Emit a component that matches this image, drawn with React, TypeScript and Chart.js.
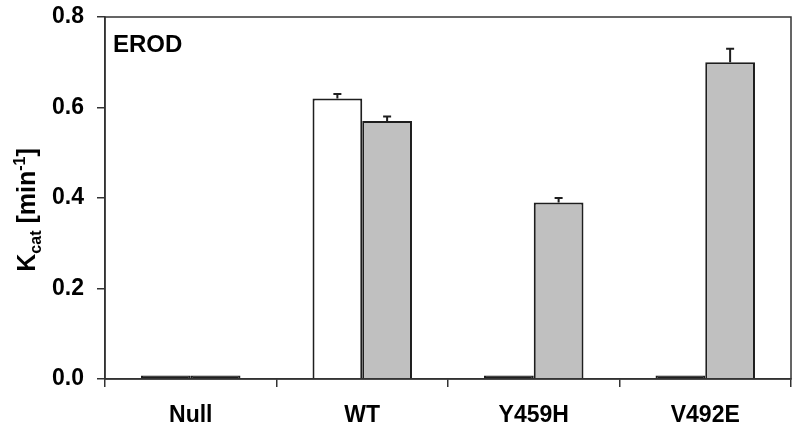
import React, { useEffect, useRef } from "react";
import { Chart, registerables } from "chart.js";

Chart.register(...registerables);

const categories = ["Null", "WT", "Y459H", "V492E"];
const whiteValues = [0.008, 0.62, 0.008, 0.008];
const grayValues = [0.008, 0.57, 0.39, 0.7];
const whiteErrors = [0, 0.01, 0, 0];
const grayErrors = [0, 0.01, 0.01, 0.03];
const yTickValues = [0, 0.2, 0.4, 0.6, 0.8];
const panelLabel = "EROD";

const FONT = "'Liberation Sans', Arial, sans-serif";
const INK = "#1e1e1e";

const errorBarPlugin = {
  id: "errorBars",
  afterDatasetsDraw(chart: any) {
    const ctx = chart.ctx;
    const yScale = chart.scales.y;
    const errs = [whiteErrors, grayErrors];
    chart.data.datasets.forEach((ds: any, di: number) => {
      const meta = chart.getDatasetMeta(di);
      meta.data.forEach((bar: any, i: number) => {
        const e = errs[di][i];
        if (!e) return;
        const v = ds.data[i];
        const yTop = yScale.getPixelForValue(v + e);
        ctx.save();
        ctx.strokeStyle = INK;
        ctx.lineWidth = 2;
        ctx.beginPath();
        ctx.moveTo(bar.x, bar.y);
        ctx.lineTo(bar.x, yTop);
        ctx.moveTo(bar.x - 4, yTop);
        ctx.lineTo(bar.x + 4, yTop);
        ctx.stroke();
        ctx.restore();
      });
    });
  },
};

const framePlugin = {
  id: "frame",
  afterDraw(chart: any) {
    const { ctx, chartArea } = chart;
    ctx.save();
    ctx.strokeStyle = "#333";
    ctx.lineWidth = 1.5;
    ctx.strokeRect(chartArea.left, chartArea.top, chartArea.right - chartArea.left, chartArea.bottom - chartArea.top);
    // panel label
    ctx.fillStyle = "#000";
    ctx.font = `bold 24px ${FONT}`;
    ctx.textBaseline = "alphabetic";
    ctx.textAlign = "left";
    ctx.fillText(panelLabel, chartArea.left + 8, chartArea.top + 35);
    // y title with subscript and superscript
    const cx = 26;
    const cy = (chartArea.top + chartArea.bottom) / 2 + 12;
    const parts = [
      { t: "K", size: 25, dy: 0 },
      { t: "cat", size: 16, dy: 6 },
      { t: " [min", size: 25, dy: 0 },
      { t: "-1", size: 16, dy: -10 },
      { t: "]", size: 25, dy: 0 },
    ];
    let total = 0;
    parts.forEach((p) => {
      ctx.font = `bold ${p.size}px ${FONT}`;
      total += ctx.measureText(p.t).width;
    });
    ctx.translate(cx, cy);
    ctx.rotate(-Math.PI / 2);
    let x = -total / 2;
    parts.forEach((p) => {
      ctx.font = `bold ${p.size}px ${FONT}`;
      ctx.fillText(p.t, x, 9 + p.dy);
      x += ctx.measureText(p.t).width;
    });
    ctx.restore();
  },
};

export default function App() {
  const ref = useRef<HTMLCanvasElement | null>(null);
  useEffect(() => {
    if (!ref.current) return;
    const fillFor = (base: string) => (c: any) => {
      const v = c.raw as number;
      return v !== undefined && v < 0.02 ? INK : base;
    };
    const chart = new Chart(ref.current, {
      type: "bar",
      data: {
        labels: categories,
        datasets: [
          {
            label: "white",
            data: whiteValues,
            backgroundColor: fillFor("#ffffff"),
            borderColor: INK,
            borderWidth: 2,
            categoryPercentage: 0.58,
            barPercentage: 1,
          },
          {
            label: "gray",
            data: grayValues,
            backgroundColor: fillFor("#c0c0c0"),
            borderColor: INK,
            borderWidth: 2,
            categoryPercentage: 0.58,
            barPercentage: 1,
          },
        ],
      },
      options: {
        animation: false,
        responsive: false,
        maintainAspectRatio: false,
        layout: { padding: { top: 17, right: 9, left: 0, bottom: 0 } },
        plugins: { legend: { display: false }, tooltip: { enabled: false } },
        scales: {
          x: {
            offset: true,
            grid: {
              offset: true,
              drawOnChartArea: false,
              drawTicks: true,
              tickLength: 8,
              color: "#333",
              lineWidth: 1.5,
            },
            border: { display: true, color: "#333", width: 1.5 },
            ticks: {
              color: "#000",
              font: { family: FONT, size: 23, weight: "bold" },
              padding: 15,
            },
            afterFit(scale: any) {
              scale.height = 56;
              scale.paddingLeft = 0;
              scale.paddingRight = 0;
            },
          },
          y: {
            min: 0,
            max: 0.8,
            afterBuildTicks(scale: any) {
              scale.ticks = yTickValues.map((v) => ({ value: v }));
            },
            grid: {
              drawOnChartArea: false,
              drawTicks: true,
              tickLength: 8,
              color: "#333",
              lineWidth: 1.5,
            },
            border: { display: true, color: "#333", width: 1.5 },
            ticks: {
              color: "#000",
              font: { family: FONT, size: 23, weight: "bold" },
              padding: 13,
              callback: (v: any) => Number(v).toFixed(1),
            },
            afterFit(scale: any) {
              scale.width = 105;
              scale.paddingTop = 0;
              scale.paddingBottom = 0;
            },
          },
        },
      },
      plugins: [errorBarPlugin, framePlugin],
    });
    return () => chart.destroy();
  }, []);
  return (
    <div style={{ position: "fixed", left: 0, top: 0, width: 800, height: 435, background: "#fff" }}>
      <canvas ref={ref} width={800} height={435} style={{ width: 800, height: 435 }} />
    </div>
  );
}
